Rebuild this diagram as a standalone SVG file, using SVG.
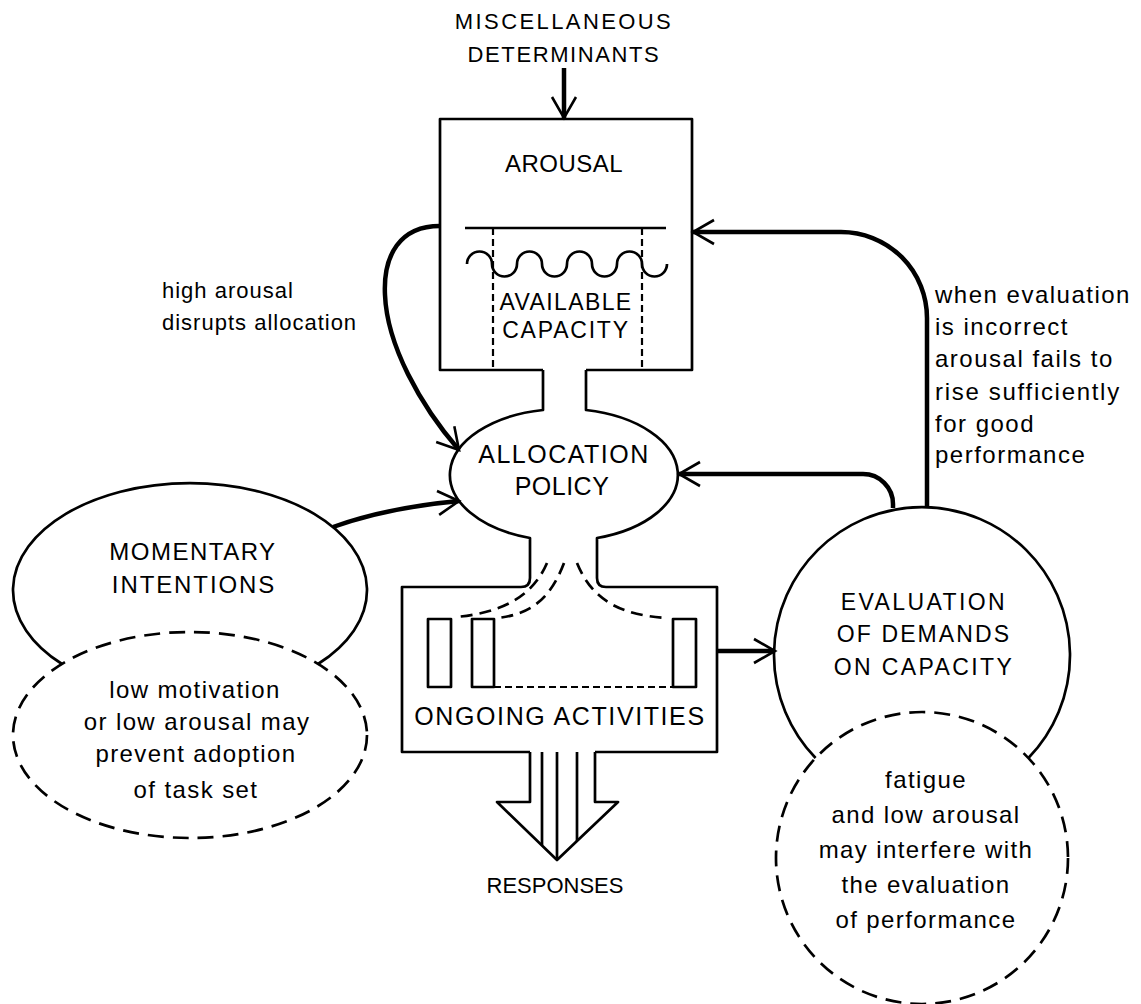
<svg xmlns="http://www.w3.org/2000/svg" width="1141" height="1004" viewBox="0 0 1141 1004">
  <style>
    .bg { fill: #ffffff; }
    .line { fill: none; stroke: #000; stroke-width: 2.7; stroke-linejoin: round; }
    .dash { fill: none; stroke: #000; stroke-width: 2.7; stroke-dasharray: 16 9; }
    .fine-dash { fill: none; stroke: #000; stroke-width: 2.2; stroke-dasharray: 7 4; }
    .curve-dash { fill: none; stroke: #000; stroke-width: 2.7; stroke-dasharray: 12 7; }
    .conn { fill: none; stroke: #000; stroke-width: 4.5; marker-end: url(#vee); }
    text { font-family: "Liberation Sans", Arial, sans-serif; fill: #000; }
    .cap { font-size: 24px; letter-spacing: 1.5px; text-anchor: middle; }
    .low { font-size: 24px; letter-spacing: 1.4px; text-anchor: middle; }
    .note { font-size: 24px; letter-spacing: 1.5px; }
  </style>
  <defs>
    <marker id="vee" viewBox="-24 -15 27 30" refX="0" refY="0" markerWidth="27" markerHeight="30" markerUnits="userSpaceOnUse" orient="auto">
      <path d="M-21,-12 L0,0 L-21,12" fill="none" stroke="#000" stroke-width="2.6" stroke-linejoin="miter"/>
    </marker>
  </defs>

  <rect class="bg" x="0" y="0" width="1141" height="1004"/>

  <!-- external input -->
  <g id="misc-determinants">
    <text x="564" y="29" style="font-size:22px;letter-spacing:2.4px;text-anchor:middle">MISCELLANEOUS</text>
    <text x="564" y="62" style="font-size:22px;letter-spacing:1.6px;text-anchor:middle">DETERMINANTS</text>
  </g>

  <!-- arousal reservoir with available capacity -->
  <g id="arousal">
    <path class="line" d="M543,370 H440 V119 H692 V370 H586"/>
    <path class="line" d="M465,228 H666"/>
    <path class="fine-dash" d="M493,228 V370 M642,228 V370"/>
    <path class="line" d="M467,264 a12.5,12.5 0 0 1 25,0 a12.5,12.5 0 0 0 25,0 a12.5,12.5 0 0 1 25,0 a12.5,12.5 0 0 0 25,0 a12.5,12.5 0 0 1 25,0 a12.5,12.5 0 0 0 25,0 a12.5,12.5 0 0 1 25,0 a12.5,12.5 0 0 0 25,0"/>
    <text class="cap" x="564" y="172" style="letter-spacing:0.5px">AROUSAL</text>
    <text class="cap" x="566" y="310" style="font-size:23px;letter-spacing:1.4px">AVAILABLE</text>
    <text class="cap" x="566" y="338" style="font-size:23px;letter-spacing:1.8px">CAPACITY</text>
  </g>

  <!-- allocation policy with its necks -->
  <g id="allocation-policy">
    <path class="line" d="M543,370 V410 A113.5,66 0 0 0 530,538 V578 Q530,587 521,587"/>
    <path class="line" d="M586,370 V410 A113.5,66 0 0 1 597,538 V578 Q597,587 606,587"/>
    <text class="cap" x="564" y="463" style="font-size:25px">ALLOCATION</text>
    <text class="cap" x="562" y="495" style="font-size:25px;letter-spacing:0.5px">POLICY</text>
  </g>

  <!-- ongoing activities -->
  <g id="ongoing-activities">
    <path class="line" d="M521,587 H402 V752 H530 M595,752 H717 V587 H606"/>
    <rect class="line" x="428" y="619" width="23" height="68"/>
    <rect class="line" x="472" y="619" width="22" height="68"/>
    <rect class="line" x="673" y="619" width="23" height="68"/>
    <path class="fine-dash" d="M494,687 H673"/>
    <path class="curve-dash" d="M547,563 C532,598 500,613 456,617"/>
    <path class="curve-dash" d="M564,563 C550,600 530,614 498,618"/>
    <path class="curve-dash" d="M577,563 C592,600 620,615 667,618"/>
    <text class="cap" x="560" y="725" style="font-size:25px;letter-spacing:1.6px">ONGOING ACTIVITIES</text>
  </g>

  <!-- response output arrow -->
  <g id="responses">
    <path class="line" d="M530,752 V802 H497 L557,860 L618,802 H595 V752"/>
    <path class="line" d="M542,752 V845 M557,752 V859 M577,752 V841"/>
    <text class="cap" x="555" y="893" style="font-size:22px;letter-spacing:0px">RESPONSES</text>
  </g>

  <!-- momentary intentions -->
  <g id="momentary-intentions">
    <path class="line" d="M62,664 A177,107 0 1 1 318,664"/>
    <text class="cap" x="193" y="560">MOMENTARY</text>
    <text class="cap" x="194" y="593" style="letter-spacing:1.9px">INTENTIONS</text>
  </g>

  <g id="low-motivation">
    <ellipse class="dash" cx="190" cy="735" rx="177" ry="103"/>
    <text class="low" x="195" y="698">low motivation</text>
    <text class="low" x="197" y="730">or low arousal may</text>
    <text class="low" x="196" y="762">prevent adoption</text>
    <text class="low" x="196" y="798">of task set</text>
  </g>

  <!-- evaluation of demands -->
  <g id="evaluation">
    <path class="line" d="M815.6,758 A148,148 0 1 1 1028.4,758"/>
    <text class="cap" x="924" y="610" style="font-size:23px;letter-spacing:2.4px">EVALUATION</text>
    <text class="cap" x="924" y="642" style="font-size:23px;letter-spacing:2.1px">OF DEMANDS</text>
    <text class="cap" x="924" y="675" style="font-size:23px;letter-spacing:2.4px">ON CAPACITY</text>
  </g>

  <g id="fatigue">
    <circle class="dash" cx="922" cy="858" r="146"/>
    <text class="low" x="926" y="788">fatigue</text>
    <text class="low" x="926" y="823">and low arousal</text>
    <text class="low" x="926" y="858">may interfere with</text>
    <text class="low" x="926" y="893">the evaluation</text>
    <text class="low" x="926" y="928">of performance</text>
  </g>

  <!-- annotations -->
  <g id="note-high-arousal">
    <text class="note" x="162" y="298" style="font-size:22px;letter-spacing:1px">high arousal</text>
    <text class="note" x="162" y="330" style="font-size:22px;letter-spacing:1px">disrupts allocation</text>
  </g>
  <g id="note-evaluation">
    <text class="note" x="935" y="303">when evaluation</text>
    <text class="note" x="935" y="335">is incorrect</text>
    <text class="note" x="935" y="367">arousal fails to</text>
    <text class="note" x="935" y="400" style="letter-spacing:1.7px">rise sufficiently</text>
    <text class="note" x="935" y="432">for good</text>
    <text class="note" x="935" y="463">performance</text>
  </g>

  <!-- connectors -->
  <g id="connectors">
    <path class="conn" d="M564,68 V118"/>
    <path class="conn" d="M440,226 C400,226 383,255 385,295 C387,345 420,405 459,450"/>
    <path class="conn" d="M333,527 C375,512 415,505 459,501"/>
    <path class="conn" d="M717,651 H775"/>
    <path class="conn" d="M893,508 V504 A30,30 0 0 0 863,474 H679"/>
    <path class="conn" d="M927,507 V318 A86,86 0 0 0 841,232 H693"/>
  </g>
</svg>
